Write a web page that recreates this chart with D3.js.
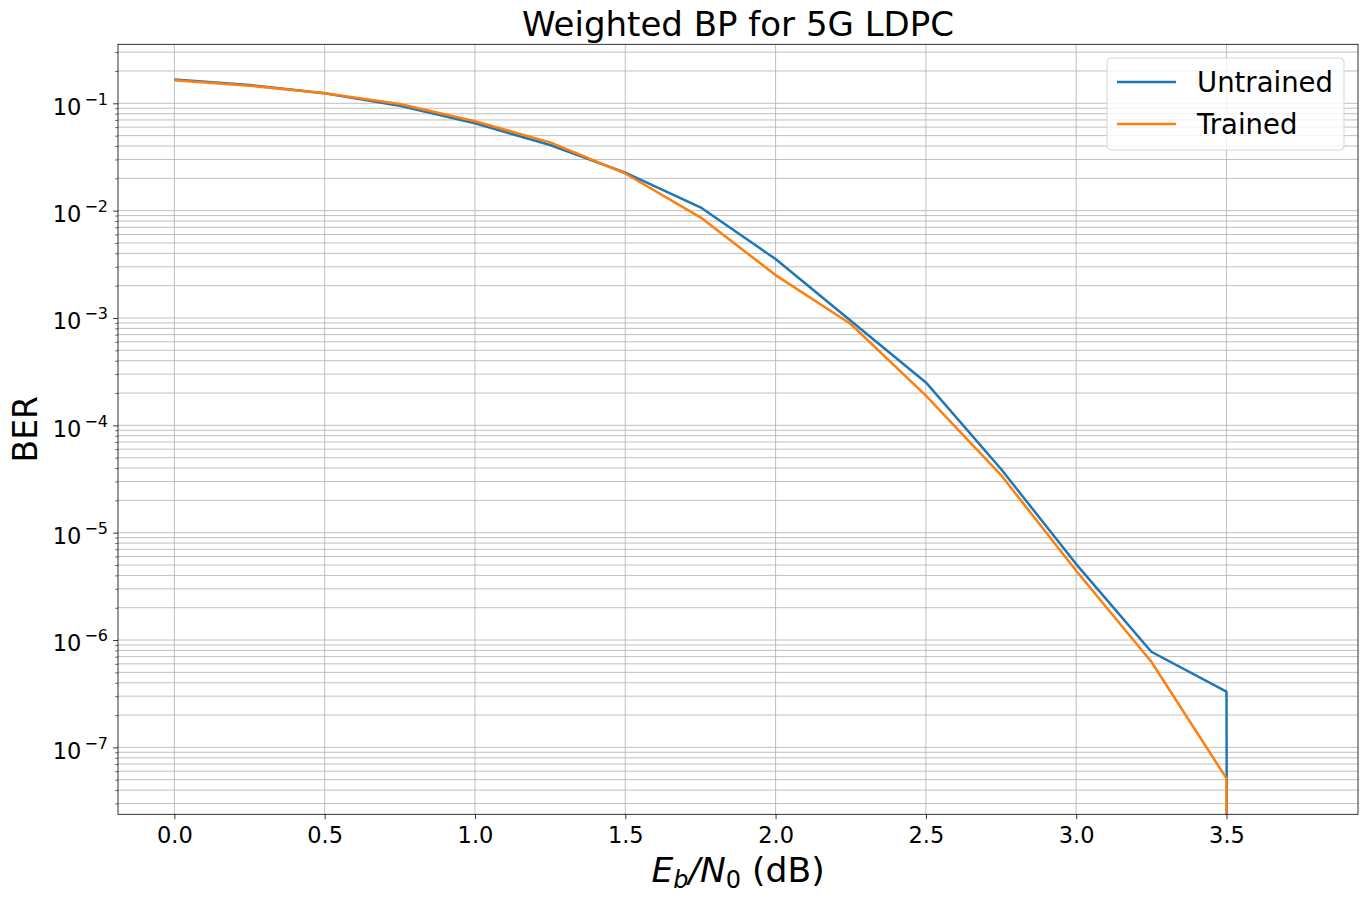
<!DOCTYPE html>
<html>
<head>
<meta charset="utf-8">
<script src="https://cdn.jsdelivr.net/npm/d3@7"></script>
<style>
  html, body { margin: 0; padding: 0; background: #fff; }
  svg { display: block; }
  text { font-family: "DejaVu Sans", sans-serif; fill: #000; }
</style>
</head>
<body>
<svg id="chart" width="1368" height="900"></svg>
<script>
// ---- data ----
const ebn0 = [0.0, 0.25, 0.5, 0.75, 1.0, 1.25, 1.5, 1.75, 2.0, 2.25, 2.5, 2.75, 3.0, 3.25, 3.5, 3.75];
const berUntrained = [0.167, 0.148, 0.124, 0.095, 0.0651, 0.0409, 0.0226, 0.01074, 3.54e-3, 9.42e-4, 2.51e-4, 3.92e-5, 5.1e-6, 7.78e-7, 3.30e-7, 0];
const berTrained   = [0.164, 0.146, 0.124, 0.0985, 0.0680, 0.0433, 0.0222, 8.67e-3, 2.51e-3, 8.79e-4, 1.89e-4, 3.44e-5, 4.42e-6, 6.27e-7, 5.14e-8, 0];
const seriesNames = ["Untrained", "Trained"];
const seriesColors = ["#1f77b4", "#ff7f0e"];
const xTicks = [0.0, 0.5, 1.0, 1.5, 2.0, 2.5, 3.0, 3.5];
const yExponents = [-7, -6, -5, -4, -3, -2, -1];
const titleText = "Weighted BP for 5G LDPC";
const yLabelText = "BER";

// ---- layout ----
const L = 118, R = 1358, T = 44.3, B = 814.3;
const svg = d3.select("#chart");

const x = d3.scaleLinear().domain([-0.1875, 3.9375]).range([L, R]);
const y = d3.scaleLog().domain([2.38e-8, 0.3546]).range([B, T]);

// minor tick values
const yMinor = [];
for (let e = -9; e <= 0; e++) {
  for (let m = 2; m <= 9; m++) {
    const v = m * Math.pow(10, e);
    if (v >= y.domain()[0] && v <= y.domain()[1]) yMinor.push(v);
  }
}
const yMajor = yExponents.map(e => Math.pow(10, e));

// ---- grid ----
const grid = svg.append("g").attr("stroke", "#b0b0b0").attr("stroke-width", 0.8);
yMinor.concat(yMajor).forEach(v => {
  grid.append("line").attr("x1", L).attr("x2", R).attr("y1", y(v)).attr("y2", y(v));
});
xTicks.forEach(v => {
  grid.append("line").attr("x1", x(v)).attr("x2", x(v)).attr("y1", T).attr("y2", B);
});

// ---- lines ----
svg.append("defs").append("clipPath").attr("id", "plotclip")
  .append("rect").attr("x", L).attr("y", T).attr("width", R - L).attr("height", B - T);

const line = d3.line()
  .x((d, i) => x(ebn0[i]))
  .y(d => y(d > 0 ? d : 1e-300));

const plotG = svg.append("g").attr("clip-path", "url(#plotclip)");
[berUntrained, berTrained].forEach((s, k) => {
  plotG.append("path")
    .datum(s)
    .attr("d", line)
    .attr("fill", "none")
    .attr("stroke", seriesColors[k])
    .attr("stroke-width", 2.5)
    .attr("stroke-linejoin", "round");
});

// ---- axes ----
const xAxis = d3.axisBottom(x).tickValues(xTicks).tickFormat(d3.format(".1f")).tickSize(4.9).tickPadding(4.9);
const gx = svg.append("g").attr("transform", `translate(0,${B})`).call(xAxis);
gx.select(".domain").remove();
gx.selectAll(".tick line").attr("stroke", "#000").attr("stroke-width", 0.8);
gx.selectAll(".tick text").attr("font-size", 22.5).attr("font-family", "DejaVu Sans").attr("dy", null).attr("y", 29);

const yAxisMinor = d3.axisLeft(y).tickValues(yMinor).tickFormat("").tickSize(2.8);
const gyMinor = svg.append("g").attr("transform", `translate(${L},0)`).call(yAxisMinor);
gyMinor.select(".domain").remove();
gyMinor.selectAll(".tick line").attr("stroke", "#000").attr("stroke-width", 0.6);

const yAxis = d3.axisLeft(y).tickValues(yMajor).tickFormat("").tickSize(4.9);
const gy = svg.append("g").attr("transform", `translate(${L},0)`).call(yAxis);
gy.select(".domain").remove();
gy.selectAll(".tick line").attr("stroke", "#000").attr("stroke-width", 0.8);
gy.selectAll(".tick").each(function(d) {
  const e = Math.round(Math.log10(d));
  const t = d3.select(this).select("text");
  t.text(null).attr("x", -10).attr("dy", null).attr("y", 10.7)
    .attr("text-anchor", "end").attr("font-size", 22.5).attr("font-family", "DejaVu Sans");
  t.append("tspan").text("10");
  t.append("tspan").attr("font-size", 16).attr("dx", 3).attr("dy", -10).text("\u2212" + Math.abs(e));
});

// spines
svg.append("rect").attr("x", L).attr("y", T).attr("width", R - L).attr("height", B - T)
  .attr("fill", "none").attr("stroke", "#000").attr("stroke-width", 0.8);

// ---- title & labels ----
svg.append("text").attr("x", (L + R) / 2).attr("y", 36).attr("text-anchor", "middle")
  .attr("font-size", 34).text(titleText);

const xl = svg.append("text").attr("x", (L + R) / 2).attr("y", 882).attr("text-anchor", "middle").attr("font-size", 34.5);
xl.append("tspan").attr("font-style", "italic").text("E");
xl.append("tspan").attr("font-style", "italic").attr("font-size", 24).attr("dy", 6).text("b");
xl.append("tspan").attr("font-style", "italic").attr("dy", -6).text("/N");
xl.append("tspan").attr("font-size", 24).attr("dy", 6).text("0");
xl.append("tspan").attr("dy", -6).text(" (dB)");

svg.append("text").attr("transform", `translate(37,${(T + B) / 2}) rotate(-90)`)
  .attr("text-anchor", "middle").attr("font-size", 33).text(yLabelText);

// ---- legend ----
const lg = svg.append("g");
lg.append("rect").attr("x", 1107).attr("y", 58).attr("width", 237).attr("height", 92)
  .attr("rx", 4).attr("ry", 4)
  .attr("fill", "#fff").attr("fill-opacity", 0.8).attr("stroke", "#d6d6d6").attr("stroke-width", 1);
seriesNames.forEach((n, i) => {
  const yy = 82 + i * 42;
  lg.append("line").attr("x1", 1117).attr("x2", 1176).attr("y1", yy).attr("y2", yy)
    .attr("stroke", seriesColors[i]).attr("stroke-width", 2.5);
  lg.append("text").attr("x", 1197).attr("y", yy + 10.3).attr("font-size", 27.5).text(n);
});
</script>
</body>
</html>
